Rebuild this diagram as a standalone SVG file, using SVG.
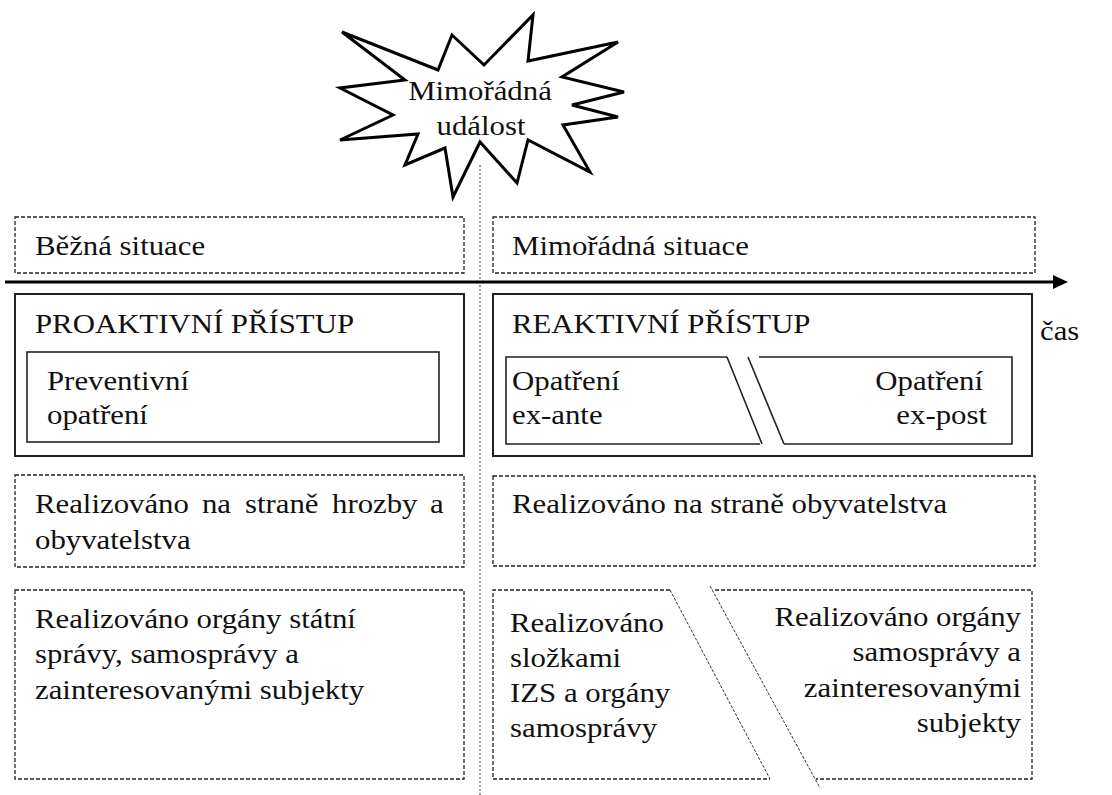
<svg xmlns="http://www.w3.org/2000/svg" width="1112" height="795" viewBox="0 0 1112 795">
<style>
  .t { font-size: 28px; fill: #111; }
  .dash { fill: none; stroke: #222; stroke-width: 1.3; stroke-dasharray: 4 2; }
  .solid { fill: none; stroke: #222; stroke-width: 2; }
  .inner { fill: none; stroke: #222; stroke-width: 1.6; }
  .thin { fill: none; stroke: #333; stroke-width: 1; stroke-dasharray: 3 1.5; }
</style>
<rect width="1112" height="795" fill="#fff"/>

<g font-family="Liberation Serif, serif">
<g id="divider">
  <line x1="480" y1="165" x2="480" y2="795" stroke="#777" stroke-width="1.5" stroke-dasharray="2 2"/>
</g>

<g id="star">
  <polygon points="342,32 438,70 452,35 484,65 533,15 528,61 618,42 562,77 624,92 572,105 618,117 563,125 590,172 528,140 517,183 480,142 453,197 445,148 405,165 418,134 340,140 393,115 340,88 405,80" fill="none" stroke="#000" stroke-width="3" stroke-linejoin="miter"/>
  <text class="t" text-anchor="middle" transform="translate(480,100) scale(1.1,1)">Mimořádná</text>
  <text class="t" text-anchor="middle" transform="translate(481,135) scale(1.1,1)">událost</text>
</g>

<g id="connectors">
  <line x1="5" y1="282" x2="1055" y2="282" stroke="#000" stroke-width="3"/>
  <polygon points="1053,275 1068,282 1053,289" fill="#000"/>
</g>

<g id="bezna">
  <rect class="dash" x="15" y="217" width="449" height="56"/>
  <text class="t" transform="translate(35,255) scale(1.1,1)">Běžná situace</text>
</g>

<g id="mimoradna">
  <rect class="dash" x="493" y="217" width="542" height="56"/>
  <text class="t" transform="translate(512,255) scale(1.1,1)">Mimořádná situace</text>
</g>

<g id="cas">
  <text class="t" transform="translate(1040,340) scale(1.1,1)">čas</text>
</g>

<g id="proaktivni">
  <rect class="solid" x="15" y="294" width="449" height="162"/>
  <text class="t" transform="translate(35,333) scale(1.1,1)">PROAKTIVNÍ PŘÍSTUP</text>
  <rect class="inner" x="27" y="352" width="412" height="90"/>
  <text class="t" transform="translate(47,390) scale(1.1,1)"><tspan x="0">Preventivní</tspan><tspan x="0" dy="34">opatření</tspan></text>
</g>

<g id="reaktivni">
  <rect class="solid" x="493" y="294" width="539" height="162"/>
  <text class="t" transform="translate(512,333) scale(1.1,1)">REAKTIVNÍ PŘÍSTUP</text>
  <path class="inner" d="M727,357 H506 V444 H760 M727,357 L762,444"/>
  <path class="inner" d="M759,357 H1012 V444 H784 M748,357 L784,444"/>
  <text class="t" transform="translate(512,390) scale(1.1,1)"><tspan x="0">Opatření</tspan><tspan x="0" dy="34">ex-ante</tspan></text>
  <text class="t" text-anchor="end" transform="translate(983,390) scale(1.1,1)">Opatření</text>
  <text class="t" text-anchor="end" transform="translate(987,424) scale(1.1,1)">ex-post</text>
</g>

<g id="hrozby">
  <rect class="dash" x="15" y="475" width="449" height="92"/>
  <text class="t" transform="translate(35,513) scale(1.1,1)"><tspan x="0">Realizováno</tspan><tspan x="151.8">na</tspan><tspan x="190.9">straně</tspan><tspan x="270">hrozby</tspan><tspan x="359.1">a</tspan><tspan x="0" dy="36">obyvatelstva</tspan></text>
</g>

<g id="obyvatelstva">
  <rect class="dash" x="493" y="476" width="542" height="90"/>
  <text class="t" transform="translate(512,513) scale(1.1,1)">Realizováno na straně obyvatelstva</text>
</g>

<g id="statni">
  <rect class="dash" x="15" y="590" width="449" height="189"/>
  <text class="t" transform="translate(35,628) scale(1.1,1)"><tspan x="0">Realizováno orgány státní</tspan><tspan x="0" dy="35.5">správy, samosprávy a</tspan><tspan x="0" dy="35.5">zainteresovanými subjekty</tspan></text>
</g>

<g id="izs">
  <path class="dash" d="M670,590 H493 V779 H770"/>
  <line class="thin" x1="670" y1="590" x2="770" y2="779"/>
  <text class="t" transform="translate(510,632) scale(1.1,1)"><tspan x="0">Realizováno</tspan><tspan x="0" dy="35">složkami</tspan><tspan x="0" dy="35">IZS a orgány</tspan><tspan x="0" dy="35">samosprávy</tspan></text>
</g>

<g id="samospravy">
  <path class="dash" d="M715,590 H1032 V779 H816"/>
  <line class="thin" x1="710" y1="586" x2="820" y2="788"/>
  <text class="t" text-anchor="end" transform="translate(1021,626) scale(1.1,1)"><tspan x="0">Realizováno orgány</tspan><tspan x="0" dy="35.5">samosprávy a</tspan><tspan x="0" dy="35.5">zainteresovanými</tspan><tspan x="0" dy="35.5">subjekty</tspan></text>
</g>
</g>
</svg>
